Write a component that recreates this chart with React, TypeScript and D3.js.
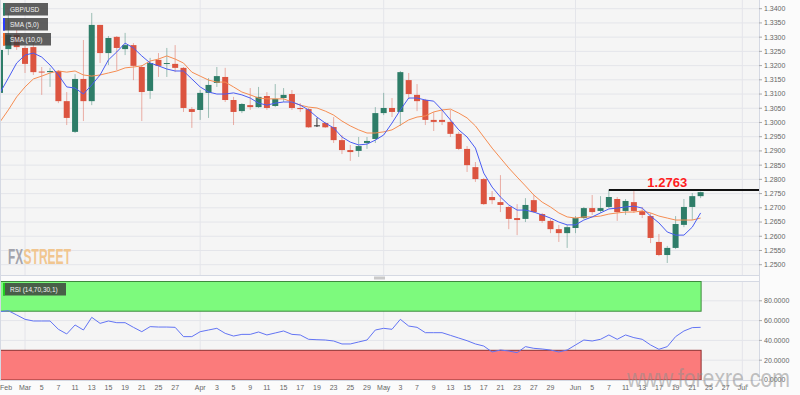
import * as d3 from 'd3';

// trading days shown on the time axis (Feb 26 .. Jul 3, 2019, weekdays)
const days = d3.utcDay
  .range(new Date(Date.UTC(2019, 1, 26)), new Date(Date.UTC(2019, 6, 4)))
  .filter(d => d.getUTCDay() !== 0 && d.getUTCDay() !== 6);
const dayKeys = days.map(d3.utcFormat('%Y-%m-%d'));

// GBP/USD daily candles, Feb 26 .. Jun 24
const open = [
  1.3104, 1.3258, 1.3308, 1.3262, 1.3265, 1.3179, 1.3177, 1.3181, 1.3075, 1.2967,
  1.3153, 1.3075, 1.3343, 1.3244, 1.3301, 1.3258, 1.3272, 1.3195, 1.3111, 1.3220,
  1.3207, 1.3206, 1.3192, 1.3047, 1.3044, 1.3104, 1.3139, 1.3160, 1.3079, 1.3040,
  1.3061, 1.3054, 1.3093, 1.3058, 1.3086, 1.3100, 1.3051, 1.3047, 1.2990, 1.2998,
  1.2984, 1.2938, 1.2903, 1.2900, 1.2928, 1.2942, 1.3033, 1.3051, 1.3037, 1.3149,
  1.3097, 1.3079, 1.3009, 1.3009, 1.3002, 1.2960, 1.2907, 1.2843, 1.2801, 1.2738,
  1.2720, 1.2703, 1.2664, 1.2661, 1.2727, 1.2678, 1.2654, 1.2625, 1.2611, 1.2629,
  1.2664, 1.2699, 1.2689, 1.2703, 1.2731, 1.2689, 1.2720, 1.2689, 1.2671, 1.2580,
  1.2534, 1.2559, 1.2640, 1.2703, 1.2741,
];
const high = [
  1.3272, 1.3385, 1.3325, 1.3269, 1.3283, 1.3195, 1.3192, 1.3184, 1.3107, 1.3170,
  1.3290, 1.3385, 1.3343, 1.3304, 1.3304, 1.3315, 1.3279, 1.3202, 1.3227, 1.3244,
  1.3262, 1.3272, 1.3195, 1.3054, 1.3114, 1.3156, 1.3195, 1.3192, 1.3090, 1.3068,
  1.3121, 1.3125, 1.3107, 1.3135, 1.3121, 1.3114, 1.3068, 1.3051, 1.3016, 1.3002,
  1.3019, 1.2956, 1.2921, 1.2949, 1.2949, 1.3054, 1.3104, 1.3086, 1.3181, 1.3174,
  1.3135, 1.3083, 1.3037, 1.3044, 1.3044, 1.2967, 1.2917, 1.2861, 1.2805, 1.2759,
  1.2815, 1.2706, 1.2713, 1.2734, 1.2745, 1.2682, 1.2661, 1.2640, 1.2640, 1.2671,
  1.2703, 1.2745, 1.2741, 1.2763, 1.2738, 1.2731, 1.2759, 1.2703, 1.2682, 1.2608,
  1.2566, 1.2671, 1.2731, 1.2752, 1.2757,
];
const low = [
  1.3097, 1.3237, 1.3255, 1.3174, 1.3167, 1.3097, 1.3125, 1.3068, 1.2991, 1.2963,
  1.3005, 1.3061, 1.3209, 1.3202, 1.3184, 1.3237, 1.3149, 1.3005, 1.3083, 1.3160,
  1.3160, 1.3177, 1.3037, 1.2981, 1.3009, 1.3016, 1.3125, 1.3072, 1.2991, 1.3033,
  1.3044, 1.3051, 1.3044, 1.3054, 1.3072, 1.3044, 1.3037, 1.2981, 1.2984, 1.2981,
  1.2928, 1.2889, 1.2865, 1.2879, 1.2907, 1.2928, 1.3026, 1.3019, 1.2988, 1.3083,
  1.3040, 1.2991, 1.2970, 1.2991, 1.2949, 1.2903, 1.2826, 1.2791, 1.2710, 1.2713,
  1.2685, 1.2625, 1.2604, 1.2650, 1.2682, 1.2647, 1.2611, 1.2580, 1.2559, 1.2611,
  1.2661, 1.2675, 1.2682, 1.2699, 1.2654, 1.2675, 1.2682, 1.2664, 1.2576, 1.2530,
  1.2506, 1.2555, 1.2632, 1.2657, 1.2734,
];
const close = [
  1.3255, 1.3308, 1.3265, 1.3206, 1.3177, 1.3176, 1.3181, 1.3075, 1.3016, 1.3153,
  1.3075, 1.3343, 1.3244, 1.3297, 1.3262, 1.3272, 1.3199, 1.3107, 1.3209, 1.3199,
  1.3209, 1.3192, 1.3051, 1.3037, 1.3104, 1.3132, 1.3163, 1.3079, 1.3037, 1.3065,
  1.3054, 1.3090, 1.3051, 1.3083, 1.3097, 1.3051, 1.3047, 1.2983, 1.2990, 1.2983,
  1.2938, 1.2903, 1.2896, 1.2917, 1.2935, 1.3033, 1.3051, 1.3037, 1.3177, 1.3100,
  1.3075, 1.3009, 1.3002, 1.3002, 1.2960, 1.2907, 1.2850, 1.2801, 1.2713, 1.2727,
  1.2710, 1.2661, 1.2657, 1.2710, 1.2685, 1.2654, 1.2625, 1.2611, 1.2632, 1.2664,
  1.2699, 1.2685, 1.2699, 1.2738, 1.2685, 1.2724, 1.2689, 1.2675, 1.2594, 1.2534,
  1.2559, 1.2643, 1.2703, 1.2741, 1.2755,
];

// moving averages as drawn
const sma5 = [
  1.3104, 1.3156, 1.3209, 1.3237, 1.3244, 1.3230, 1.3202, 1.3167, 1.3125, 1.3121,
  1.3100, 1.3132, 1.3167, 1.3220, 1.3248, 1.3279, 1.3262, 1.3234, 1.3209, 1.3199,
  1.3188, 1.3181, 1.3181, 1.3153, 1.3125, 1.3107, 1.3100, 1.3100, 1.3104, 1.3097,
  1.3086, 1.3068, 1.3061, 1.3068, 1.3072, 1.3072, 1.3061, 1.3044, 1.3019, 1.2998,
  1.2981, 1.2949, 1.2931, 1.2921, 1.2924, 1.2938, 1.2956, 1.2998, 1.3044, 1.3086,
  1.3086, 1.3079, 1.3075, 1.3044, 1.3009, 1.2974, 1.2949, 1.2910, 1.2822, 1.2773,
  1.2738, 1.2710, 1.2692, 1.2692, 1.2685, 1.2675, 1.2664, 1.2650, 1.2640, 1.2640,
  1.2657, 1.2668, 1.2682, 1.2696, 1.2699, 1.2703, 1.2706, 1.2699, 1.2671, 1.2647,
  1.2615, 1.2604, 1.2604, 1.2632, 1.2682,
];
const sma10 = [
  1.3002, 1.3044, 1.3090, 1.3125, 1.3153, 1.3163, 1.3174, 1.3181, 1.3177, 1.3181,
  1.3167, 1.3163, 1.3167, 1.3174, 1.3181, 1.3192, 1.3195, 1.3199, 1.3216, 1.3223,
  1.3234, 1.3223, 1.3209, 1.3177, 1.3163, 1.3149, 1.3142, 1.3142, 1.3125, 1.3107,
  1.3097, 1.3086, 1.3083, 1.3083, 1.3083, 1.3072, 1.3061, 1.3054, 1.3051, 1.3040,
  1.3026, 1.3005, 1.2988, 1.2974, 1.2963, 1.2963, 1.2967, 1.2974, 1.2991, 1.3009,
  1.3019, 1.3023, 1.3037, 1.3044, 1.3047, 1.3033, 1.3016, 1.2988, 1.2949, 1.2910,
  1.2875, 1.2840, 1.2808, 1.2777, 1.2745, 1.2720, 1.2703, 1.2682, 1.2668, 1.2664,
  1.2668, 1.2668, 1.2671, 1.2678, 1.2682, 1.2685, 1.2685, 1.2689, 1.2682, 1.2671,
  1.2664, 1.2657, 1.2657, 1.2657, 1.2664,
];

// RSI (14)
const rsi = [
  69.0, 70.0, 65.7, 61.3, 59.6, 59.6, 59.6, 51.2, 46.5, 55.6,
  50.5, 63.3, 57.2, 59.6, 57.9, 57.9, 53.2, 48.8, 53.9, 53.5,
  53.5, 53.2, 43.8, 43.8, 48.8, 50.5, 52.2, 47.1, 44.4, 46.1,
  46.1, 48.5, 45.5, 47.5, 49.5, 46.1, 45.5, 41.1, 40.7, 40.4,
  39.4, 36.4, 36.4, 38.4, 40.4, 50.5, 52.2, 51.2, 61.3, 54.5,
  53.2, 47.8, 47.8, 47.8, 45.1, 42.4, 39.7, 36.4, 34.3, 28.3,
  30.3, 29.3, 27.6, 33.7, 32.0, 31.3, 30.3, 28.3, 30.3, 35.4,
  40.4, 39.4, 41.1, 45.5, 41.1, 45.5, 42.8, 41.1, 35.4, 31.0,
  33.7, 43.8, 49.5, 52.9, 53.2,
];

const tickDates = [
  '2019-02-26', '2019-03-01', '2019-03-05', '2019-03-07', '2019-03-11', '2019-03-13', '2019-03-15',
  '2019-03-19', '2019-03-21', '2019-03-25', '2019-03-27', '2019-04-01', '2019-04-03', '2019-04-05',
  '2019-04-09', '2019-04-11', '2019-04-15', '2019-04-17', '2019-04-19', '2019-04-23', '2019-04-25',
  '2019-04-29', '2019-05-01', '2019-05-03', '2019-05-07', '2019-05-09', '2019-05-13', '2019-05-15',
  '2019-05-17', '2019-05-21', '2019-05-23', '2019-05-27', '2019-05-29', '2019-06-03', '2019-06-05',
  '2019-06-07', '2019-06-11', '2019-06-13', '2019-06-17', '2019-06-19', '2019-06-21', '2019-06-25',
  '2019-06-27', '2019-07-01',
];
const tickLabels = [
  'Feb', 'Mar', '5', '7', '11', '13', '15', '19', '21', '25', '27', 'Apr', '3', '5', '9', '11', '15',
  '17', '19', '23', '25', '29', 'May', '3', '7', '9', '13', '15', '17', '21', '23', '27', '29', 'Jun',
  '5', '7', '11', '13', '17', '19', '21', '25', '27', 'Jul',
];
const monthStarts = ['2019-03-01', '2019-04-01', '2019-05-01', '2019-06-03', '2019-07-01'];

const priceTicks = d3.range(1.25, 1.34001, 0.005);
const rsiTicks = [0, 20, 40, 60, 80];
const resistance = 1.2763;
const resistanceFrom = '2019-06-07';

const UP = '#2e7d68';
const DOWN = '#dc5440';
const GRID = '#e4e5ea';
const BORDER = '#d5d9e3';

export default function App() {
  const candleKeys = dayKeys.slice(0, close.length);
  const x = d3.scalePoint<string>().domain(dayKeys).range([0, 759]);
  const y = d3.scaleLinear().domain([1.25, 1.34]).range([264.7, 8.7]);
  const yr = d3.scaleLinear().domain([0, 100]).range([380, 281]);
  const plotR = 759;
  const lastX = x(candleKeys[candleKeys.length - 1])!;

  const priceLine = d3.line<number>()
    .x((_, i) => x(candleKeys[i])!)
    .y(d => y(d));
  const rsiLine = d3.line<number>()
    .x((_, i) => x(candleKeys[i])!)
    .y(d => yr(d));

  const fmt4 = d3.format('.4f');
  const bw = 6;

  return (
    <svg width={800} height={395}
      style={{ position: 'absolute', left: 0, top: 0, fontFamily: '"Liberation Sans", Arial, sans-serif' }}>
      <rect width={800} height={395} fill="#fbfbfb" />
      <rect x={0} y={0} width={plotR} height={275.5} fill="#f5f5f5" />
      <rect x={0} y={281} width={plotR} height={99} fill="#f5f5f5" />

      {/* price grid */}
      {priceTicks.map(t => (
        <line key={t} x1={0} x2={plotR} y1={y(t)} y2={y(t)} stroke={GRID} strokeWidth={1} />
      ))}
      {rsiTicks.slice(1).map(t => (
        <line key={t} x1={0} x2={plotR} y1={yr(t)} y2={yr(t)} stroke={GRID} strokeWidth={1} />
      ))}
      {monthStarts.map(m => (
        <g key={m}>
          <line x1={x(m)} x2={x(m)} y1={0} y2={275} stroke={GRID} />
          <line x1={x(m)} x2={x(m)} y1={281} y2={380} stroke={GRID} />
        </g>
      ))}

      {/* watermark FXSTREET */}
      <text x={8} y={264} fontSize={22} fontWeight="bold" fill="#a3a4ad" textLength={15}
        lengthAdjust="spacingAndGlyphs">FX</text>
      <text x={23.5} y={264} fontSize={22} fontWeight="bold" fill="#f1c690" textLength={47.5}
        lengthAdjust="spacingAndGlyphs">STREET</text>

      {/* candles */}
      {candleKeys.map((k, i) => {
        const cx = x(k)!;
        const o = open[i], c = close[i];
        const col = c > o ? UP : c < o ? DOWN : '#333';
        const top = y(Math.max(o, c));
        const h = Math.max(1, y(Math.min(o, c)) - top);
        return (
          <g key={k}>
            <line x1={cx} x2={cx} y1={y(high[i])} y2={y(low[i])} stroke={col}
              strokeOpacity={col === '#333' ? 1 : 0.45} strokeWidth={1} />
            <rect x={cx - bw / 2} y={top} width={bw} height={h} fill={col} />
          </g>
        );
      })}

      <path d={priceLine(sma10)!} fill="none" stroke="#f58d52" strokeWidth={1} />
      <path d={priceLine(sma5)!} fill="none" stroke="#4a5cf2" strokeWidth={1} />

      {/* resistance */}
      <line x1={x(resistanceFrom)} x2={plotR} y1={y(resistance)} y2={y(resistance)} stroke="#111" strokeWidth={2} />
      <text x={x('2019-06-18')} y={y(resistance) - 3} textAnchor="middle" fontSize={13} fontWeight="bold"
        fill="#ff1e1e">{fmt4(resistance)}</text>

      {/* legend */}
      {[
        { label: 'GBP/USD', color: UP, yy: 3, w: 45 },
        { label: 'SMA (5,0)', color: '#2a3cff', yy: 18, w: 45 },
        { label: 'SMA (10,0)', color: '#f06a2a', yy: 33, w: 48 },
      ].map(l => (
        <g key={l.label}>
          <rect x={3} y={l.yy} width={l.w} height={12.5} fill="#3d3d3d" fillOpacity={0.82} />
          <rect x={3} y={l.yy} width={2} height={12.5} fill={l.color} />
          <text x={10} y={l.yy + 8.7} fontSize={6.5} fill="#f2f2f2">{l.label}</text>
        </g>
      ))}

      {/* panel borders */}
      <line x1={0} x2={plotR} y1={275.5} y2={275.5} stroke={BORDER} />
      <line x1={0} x2={plotR} y1={281.5} y2={281.5} stroke={BORDER} />
      <rect x={374} y={276.5} width={11} height={3} fill="#c9c9c9" />

      {/* RSI zones */}
      <rect x={0.5} y={yr(100) + 0.5} width={lastX} height={yr(70) - yr(100)} fill="#7dfa7d" stroke="#3d8a3d" strokeWidth={1} />
      <rect x={0.5} y={yr(30)} width={lastX} height={yr(0) - yr(30)} fill="#fb7b7b" stroke="#8e2f2f" strokeWidth={1} />
      <path d={rsiLine(rsi)!} fill="none" stroke="#6274f4" strokeWidth={1} />
      <rect x={3} y={283} width={63} height={12.5} fill="#3d3d3d" fillOpacity={0.82} />
      <rect x={3} y={283} width={2} height={12.5} fill="#22cc22" />
      <text x={10} y={291.7} fontSize={6.5} fill="#f2f2f2">RSI (14,70,30,1)</text>

      {/* axes */}
      <line x1={0.5} x2={0.5} y1={0} y2={380} stroke={BORDER} />
      <line x1={plotR + 0.5} x2={plotR + 0.5} y1={0} y2={381} stroke={BORDER} />
      <line x1={0} x2={plotR} y1={380.5} y2={380.5} stroke={BORDER} />
      {priceTicks.map(t => (
        <g key={t}>
          <line x1={plotR} x2={plotR + 3} y1={y(t)} y2={y(t)} stroke="#aaa" />
          <text x={plotR + 5} y={y(t)} dy="0.35em" fontSize={7} fill="#666">{fmt4(t)}</text>
        </g>
      ))}
      {rsiTicks.map(t => (
        <g key={t}>
          <line x1={plotR} x2={plotR + 3} y1={yr(t)} y2={yr(t)} stroke="#aaa" />
          <text x={plotR + 5} y={yr(t)} dy="0.35em" fontSize={7} fill="#666">{fmt4(t)}</text>
        </g>
      ))}
      {tickDates.map((d, i) => (
        <text key={d} x={x(d)} y={390} fontSize={7} fill="#666"
          textAnchor={i === 0 ? 'start' : 'middle'}>{tickLabels[i]}</text>
      ))}

      {/* site watermark */}
      <text x={627} y={387} fontSize={25} fill="#8e8e8e" fillOpacity={0.55} textLength={163}
        lengthAdjust="spacingAndGlyphs">www.forexre.com</text>
    </svg>
  );
}
